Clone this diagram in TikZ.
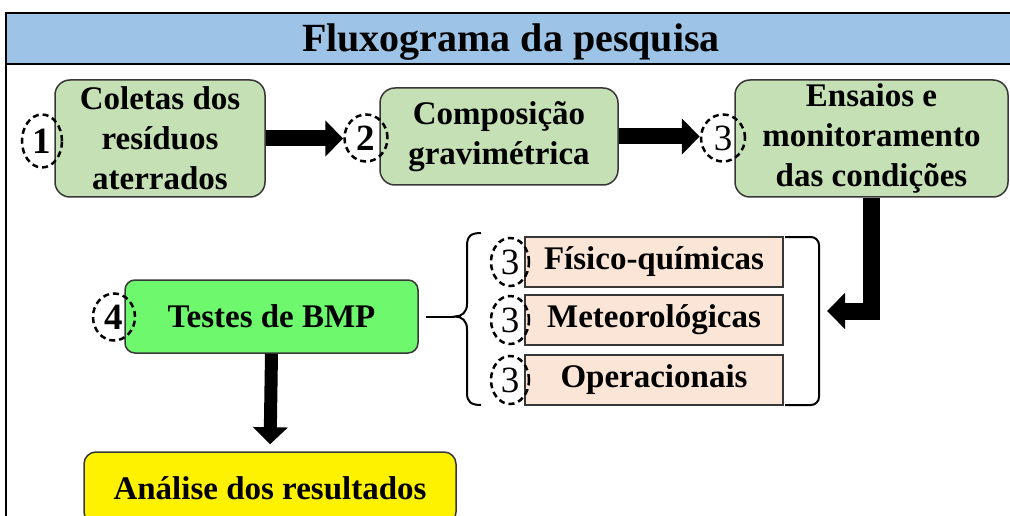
\documentclass[tikz,border=0pt]{standalone}
\usepackage{fontspec}
\setmainfont{Liberation Serif}
\usetikzlibrary{shapes.geometric,arrows.meta}
\definecolor{bandblue}{RGB}{157,195,230}
\definecolor{boxgreen}{RGB}{197,224,180}
\definecolor{bmpgreen}{RGB}{110,248,110}
\definecolor{pinkfill}{RGB}{251,229,214}
\definecolor{edgegray}{RGB}{55,55,55}
\begin{document}
\begin{tikzpicture}[x=1pt,y=-1pt,
  txt/.style={font=\fontsize{33}{40}\selectfont\bfseries, align=center, text=black},
  gbox/.style={txt, draw=edgegray, line width=1.5pt, fill=boxgreen, rounded corners=15pt, inner sep=0pt},
  pbox/.style={txt, draw=edgegray, line width=1.5pt, fill=pinkfill, inner sep=0pt, minimum width=258pt, minimum height=50pt},
  num/.style={ellipse, draw=black, dash pattern=on 6pt off 4pt, line width=2.5pt, inner sep=0pt, font=\fontsize{37}{37}\selectfont},
  bnum/.style={num, font=\fontsize{37}{37}\selectfont\bfseries},
  blockarr/.style={line width=#1, draw=black, -{Triangle[length=18pt,width=35pt]}},
  blockarr/.default=16pt,
  thinline/.style={line width=2pt, draw=black},
]
\useasboundingbox (0,0) rectangle (1010,516);
\clip (0,0) rectangle (1010,516);
% frame and title band
\fill[white] (6,13) rectangle (1012,530);
\fill[bandblue] (6,13) rectangle (1012,64);
\draw[thinline] (6,64) -- (1012,64);
\draw[thinline] (6,13) rectangle (1012,530);
\node[font=\fontsize{40}{40}\selectfont\bfseries, anchor=base] (title) at (511,52) {Fluxograma da pesquisa};

% main boxes
\node[gbox, minimum width=210pt, minimum height=117pt] (b1) at (160,138.5) {Coletas dos\\resíduos\\aterrados};
\node[gbox, minimum width=238pt, minimum height=97pt] (b2) at (499,136.5) {Composição\\gravimétrica};
\node[gbox, minimum width=273pt, minimum height=117pt] (b3) at (871.5,138.5) {Ensaios e\\monitoramento\\das condições};
\node[gbox, fill=bmpgreen, rounded corners=10pt, minimum width=293pt, minimum height=73pt] (bmp) at (271.5,316.5) {Testes de BMP};
\node[gbox, fill=yellow, rounded corners=12pt, minimum width=372pt, minimum height=72pt] (res) at (270,488) {Análise dos resultados};

% condition boxes
\node[pbox] (p1) at (654,262) {Físico-químicas};
\node[pbox] (p2) at (654,320) {Meteorológicas};
\node[pbox] (p3) at (654,380) {Operacionais};

% numbered dashed circles
\node[bnum, minimum width=40pt, minimum height=53pt] (c1) at (42,141) {1};
\node[bnum, minimum width=43pt, minimum height=47pt] (c2) at (366,138) {2};
\node[num, minimum width=44pt, minimum height=47pt] (c3) at (723,138) {3};
\node[bnum, minimum width=42pt, minimum height=47pt] (c4) at (114,317) {4};
\node[num, minimum width=38pt, minimum height=48pt] (g1) at (510,262) {3};
\node[num, minimum width=38pt, minimum height=48pt] (g2) at (510,320) {3};
\node[num, minimum width=38pt, minimum height=48pt] (g3) at (510,380) {3};

% block arrows
\draw[blockarr] (b1.east) -- (b1.east -| c2.west);
\draw[blockarr] (b2.east) -- (b2.east -| c3.west);
\coordinate (elb) at (827,311);
\draw[blockarr=17pt, line join=miter] (b3.south) |- (elb);
\draw[line width=13pt, draw=black, -{Triangle[length=17pt,width=34pt]}, shorten >=7pt] (bmp.south) -- (res.north);

% brace and bracket
\coordinate (brtip) at (455,316.5);
\draw[thinline, shorten <=7pt] (bmp.east) -- (brtip);
\draw[thinline] (481,233) .. controls (471,233) and (467,236) .. (467,246) -- (467,304) .. controls (467,312) and (462,316.5) .. (455,316.5) .. controls (462,316.5) and (467,321) .. (467,329) -- (467,393) .. controls (467,402) and (471,405) .. (481,405);
\draw[thinline, rounded corners=8pt] (785,237) -- (819,237) -- (819,405) -- (785,405);
\end{tikzpicture}
\end{document}
